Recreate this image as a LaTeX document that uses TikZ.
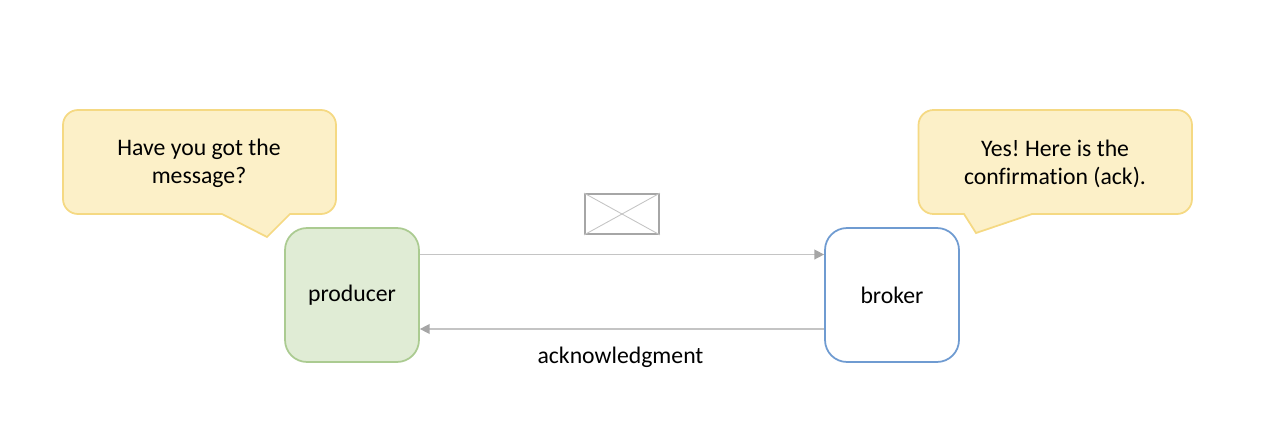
\documentclass[tikz,border=0pt]{standalone}
\usepackage{fontspec}
\setmainfont[Ligatures=CommonOff]{Carlito}
\usetikzlibrary{arrows.meta}
\definecolor{bubblefill}{HTML}{FCF0C8}
\definecolor{bubbleline}{HTML}{F5D983}
\definecolor{producerfill}{HTML}{E0ECD5}
\definecolor{producerline}{HTML}{ABCB91}
\definecolor{brokerline}{HTML}{6F9BD1}
\definecolor{wireline}{HTML}{C4C4C4}
\definecolor{wiretip}{HTML}{A6A6A6}
\tikzset{
    label text/.style={font=\fontsize{13.5}{16}\selectfont\frenchspacing, align=center, text=black},
    bubble/.style={draw=bubbleline, fill=bubblefill, line width=1pt, rounded corners=.3cm},
    party/.style={label text, draw, line width=1pt, rounded corners=.44cm, minimum width=2.68cm, minimum height=2.68cm},
    wire/.style={draw=wireline, line width=.8pt, -{Triangle[color=wiretip, fill=wiretip, length=5.5pt, width=5.5pt]}},
    envelope/.style={draw=wiretip, line width=1pt, minimum width=1.48cm, minimum height=.8cm},
    envelope cross/.style={draw=wireline, line width=.5pt}
}
\begin{document}
\begin{tikzpicture}
    \def\F{.02} % scaling factor
    \useasboundingbox (0, 0) rectangle (\F*1261, -\F*427);

    \draw[bubble] (\F*63, -\F*110) -- (\F*336, -\F*110) -- (\F*336, -\F*214)
        [sharp corners] -- (\F*290, -\F*214) -- (\F*267, -\F*237) -- (\F*222, -\F*214)
        [rounded corners=.3cm] -- (\F*63, -\F*214) -- cycle;
    \draw[bubble] (\F*918.5, -\F*110) -- (\F*1192, -\F*110) -- (\F*1192, -\F*214)
        [sharp corners] -- (\F*1032, -\F*214) -- (\F*976, -\F*233) -- (\F*964, -\F*214)
        [rounded corners=.3cm] -- (\F*918.5, -\F*214) -- cycle;
    \node[label text] (ask) at (\F*199, -\F*163.5) {Have you got the\\message?};
    \node[label text] (reply) at (\F*1055, -\F*163.5) {Yes! Here is the\\confirmation (ack).};

    \node[party, draw=producerline, fill=producerfill] (producer) at (\F*352, -\F*295) {producer};
    \node[party, draw=brokerline, fill=white] (broker) at (\F*892, -\F*295) {broker};

    \draw[wire] ([yshift=.81cm]producer.east) -- ([yshift=.81cm]broker.west);
    \draw[wire] ([yshift=-.68cm]broker.west) -- ([yshift=-.68cm]producer.east);

    \node[envelope] (message) at (\F*622, -\F*214) {};
    \draw[envelope cross] (message.north west) -- (message.south east);
    \draw[envelope cross] (message.south west) -- (message.north east);

    \node[label text] (ack) at (\F*620.5, -\F*357) {acknowledgment};
\end{tikzpicture}
\end{document}
